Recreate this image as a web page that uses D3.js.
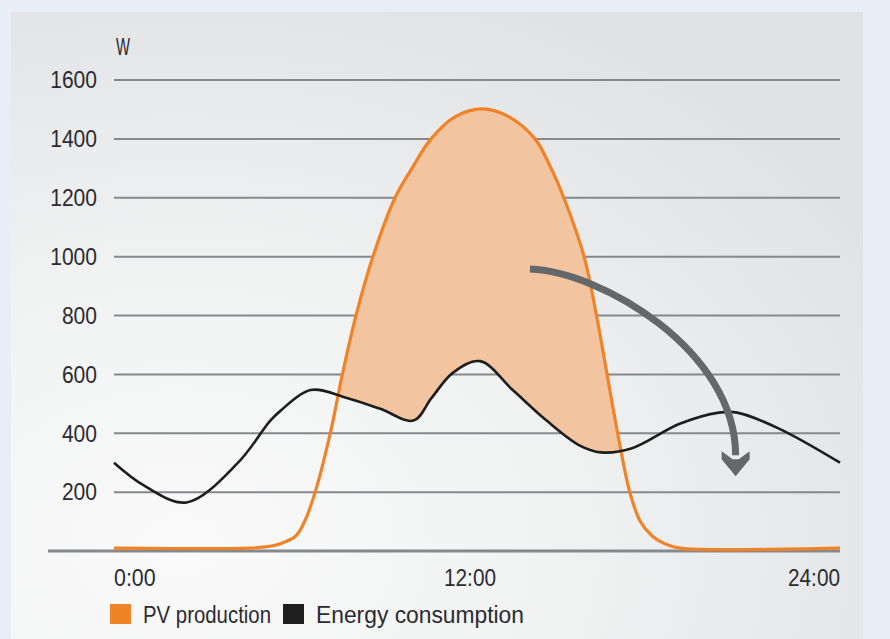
<!DOCTYPE html>
<html>
<head>
<meta charset="utf-8">
<script src="https://cdn.jsdelivr.net/npm/d3@7"></script>
<style>
  html, body { margin: 0; padding: 0; background: #e8eef8; }
  svg { display: block; }
  text { font-family: "Liberation Sans", Arial, sans-serif; fill: #2b2b30; }
</style>
</head>
<body>
<svg id="chart"></svg>
<script>
// PV production (W) by hour of day
const pvHours = [0, 4.5, 5, 5.5, 6, 6.3, 6.65, 7.15, 7.55, 8.0, 8.56, 9.29, 9.85, 10.48, 11.27, 12.17, 13.06, 13.92, 14.45, 14.87, 15.54, 15.95, 16.3, 16.65, 17.05, 17.4, 17.8, 18.2, 18.7, 24];
const pvWatts = [10, 10, 14, 25, 50, 100, 200, 400, 600, 800, 1000, 1200, 1300, 1400, 1475, 1502, 1475, 1400, 1300, 1200, 1000, 800, 600, 400, 200, 100, 50, 25, 10, 10];

// Energy consumption (W) by hour of day
const useHours = [0, 1, 2.4, 4.1, 5.16, 5.5, 6.5, 7.7, 8.8, 9.9, 10.5, 11.2, 12.1, 13.2, 14.3, 15.4, 16.1, 17.1, 18.7, 20.0, 20.6, 22, 24];
const useWatts = [300, 222, 165, 300, 442, 476, 547, 520, 483, 443, 520, 605, 645, 545, 443, 358, 335, 348, 432, 470, 470, 415, 300];

const yTicks = [200, 400, 600, 800, 1000, 1200, 1400, 1600];
const xTicks = [0, 12, 24];
const xTickLabels = ["0:00", "12:00", "24:00"];
const legendLabels = ["PV production", "Energy consumption"];
const legendColors = ["#f08328", "#1e1e1e"];

// self-consumption arrow, in (hour, W)
const arrowHours = [13.75, 16.1, 20.55, 20.55];
const arrowWatts = [958, 950, 680, 325];

const width = 890, height = 639;
const svg = d3.select("#chart").attr("width", width).attr("height", height);

const defs = svg.append("defs");
const grad = defs.append("radialGradient")
  .attr("id", "bg").attr("cx", "20%").attr("cy", "85%").attr("r", "95%");
grad.append("stop").attr("offset", "0%").attr("stop-color", "#fafafa");
grad.append("stop").attr("offset", "45%").attr("stop-color", "#f1f2f2");
grad.append("stop").attr("offset", "100%").attr("stop-color", "#e1e2e4");

svg.append("rect")
  .attr("x", 11).attr("y", 12).attr("width", 852).attr("height", height - 12)
  .attr("fill", "url(#bg)");

const x = d3.scaleLinear().domain([0, 24]).range([114, 840]);
const y = d3.scaleLinear().domain([0, 1600]).range([551, 80]);

// gridlines
svg.append("g").selectAll("line").data(yTicks).enter().append("line")
  .attr("x1", x(0)).attr("x2", x(24))
  .attr("y1", d => y(d)).attr("y2", d => y(d))
  .attr("stroke", "#86888b").attr("stroke-width", 2);

// y labels (squeezed to look condensed)
svg.append("g").selectAll("text").data(yTicks).enter().append("text")
  .attr("x", 97).attr("y", d => y(d)).attr("dy", "0.36em")
  .attr("text-anchor", "end").style("font-size", "23px")
  .attr("textLength", d => String(d).length * 11.7).attr("lengthAdjust", "spacingAndGlyphs")
  .text(d => d);

svg.append("text").attr("x", 116).attr("y", 55).style("font-size", "23px")
  .attr("textLength", 14).attr("lengthAdjust", "spacingAndGlyphs").text("W");

const pvData = pvHours.map((h, i) => ({ h, w: pvWatts[i] }));
const useData = useHours.map((h, i) => ({ h, w: useWatts[i] }));
const curve = d3.curveCatmullRom.alpha(0.5);

// area above consumption line, used to clip the PV surplus
defs.append("clipPath").attr("id", "aboveUse")
  .append("path")
  .attr("d", d3.area().curve(curve)
    .x(d => x(d.h)).y0(0).y1(d => y(d.w))(useData));

svg.append("path")
  .attr("d", d3.area().curve(curve)
    .x(d => x(d.h)).y0(y(0)).y1(d => y(d.w))(pvData))
  .attr("fill", "#f2c4a0")
  .attr("clip-path", "url(#aboveUse)");

// baseline
svg.append("line")
  .attr("x1", 48).attr("x2", x(24)).attr("y1", y(0)).attr("y2", y(0))
  .attr("stroke", "#86888b").attr("stroke-width", 3);

svg.append("path")
  .attr("d", d3.line().curve(curve).x(d => x(d.h)).y(d => y(d.w))(pvData))
  .attr("fill", "none").attr("stroke", legendColors[0]).attr("stroke-width", 3.2);

svg.append("path")
  .attr("d", d3.line().curve(curve).x(d => x(d.h)).y(d => y(d.w))(useData))
  .attr("fill", "none").attr("stroke", legendColors[1]).attr("stroke-width", 2.6);

// arrow
const ap = arrowHours.map((h, i) => [x(h), y(arrowWatts[i])]);
const arrowPath = d3.path();
arrowPath.moveTo(ap[0][0], ap[0][1]);
arrowPath.bezierCurveTo(ap[1][0], ap[1][1], ap[2][0], ap[2][1], ap[3][0], ap[3][1]);
svg.append("path").attr("d", arrowPath.toString())
  .attr("fill", "none").attr("stroke", "#65686b").attr("stroke-width", 7);

const tip = [ap[3][0], ap[3][1] + 21];
svg.append("polygon")
  .attr("points", [
    [tip[0], tip[1]],
    [tip[0] - 14, tip[1] - 17],
    [tip[0] - 14, tip[1] - 25],
    [tip[0] - 3, tip[1] - 17],
    [tip[0] + 3, tip[1] - 17],
    [tip[0] + 14, tip[1] - 25],
    [tip[0] + 14, tip[1] - 17]
  ].map(p => p.join(",")).join(" "))
  .attr("fill", "#65686b");

// x labels
svg.append("g").selectAll("text").data(xTicks).enter().append("text")
  .attr("x", d => x(d) + (d === 12 ? -7 : 0)).attr("y", 586)
  .attr("text-anchor", (d, i) => i === 0 ? "start" : (i === xTicks.length - 1 ? "end" : "middle"))
  .style("font-size", "23px")
  .attr("textLength", (d, i) => xTickLabels[i].length * 10.4).attr("lengthAdjust", "spacingAndGlyphs")
  .text((d, i) => xTickLabels[i]);

// legend
const legendX = [110, 283];
const legendW = [128, 208];
const lg = svg.append("g").selectAll("g").data(legendLabels).enter().append("g")
  .attr("transform", (d, i) => `translate(${legendX[i]},604)`);
lg.append("rect").attr("width", 21).attr("height", 20).attr("fill", (d, i) => legendColors[i]);
lg.append("text").attr("x", 33).attr("y", 19).style("font-size", "23px")
  .attr("textLength", (d, i) => legendW[i]).attr("lengthAdjust", "spacingAndGlyphs")
  .text(d => d);
</script>
</body>
</html>
